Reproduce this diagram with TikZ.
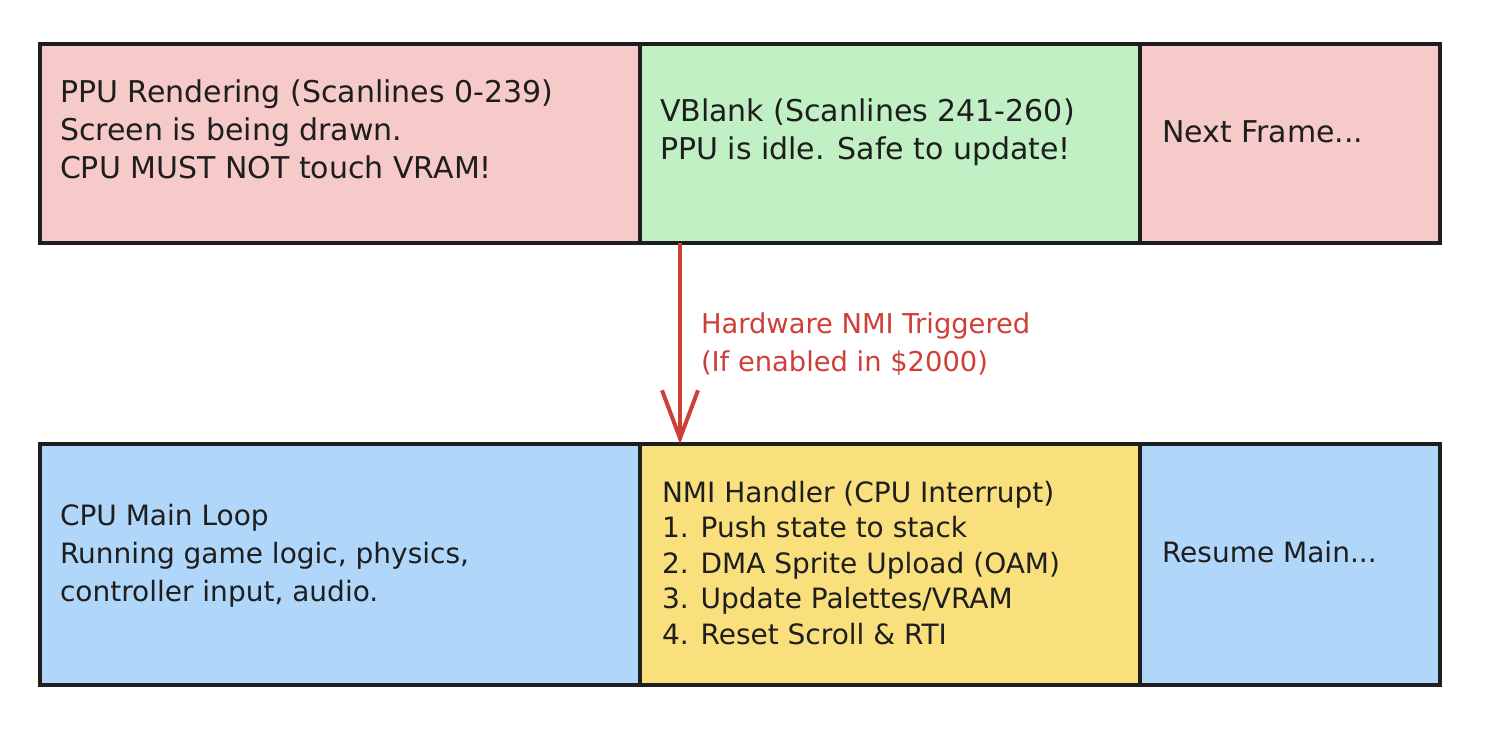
\documentclass[tikz,border=0pt]{standalone}
\usepackage{fontspec}
\setmainfont{DejaVu Sans}
\usetikzlibrary{arrows.meta,calc}
\definecolor{inkc}{RGB}{30,30,30}
\definecolor{pinkc}{RGB}{247,202,202}
\definecolor{greenc}{RGB}{192,240,195}
\definecolor{bluec}{RGB}{176,214,249}
\definecolor{yellowc}{RGB}{249,224,125}
\definecolor{redc}{RGB}{208,62,56}
\tikzset{
  box/.style={draw=inkc, line width=3pt, rectangle, inner sep=0pt, outer sep=0pt, anchor=north west},
  bigtxt/.style={inner sep=0pt, outer sep=0pt, anchor=base west, align=left, text=inkc, font=\fontsize{22.5pt}{28.5pt}\selectfont},
  midtxt/.style={inner sep=0pt, outer sep=0pt, anchor=base west, align=left, text=inkc, font=\fontsize{21pt}{28.5pt}\selectfont},
  listtxt/.style={inner sep=0pt, outer sep=0pt, anchor=base west, align=left, text=inkc, font=\fontsize{21pt}{26.6pt}\selectfont},
  redtxt/.style={inner sep=0pt, outer sep=0pt, anchor=base west, align=left, text=redc, font=\fontsize{20.5pt}{29pt}\selectfont},
  nmiarrow/.style={draw=redc, line width=3pt, -{Straight Barb[length=36pt,width=27pt]}}
}
\begin{document}
\begin{tikzpicture}[x=0.75pt,y=-0.75pt]
\useasboundingbox (0,0) rectangle (1494,730);
% top row
\node (top1) [box, fill=pinkc, minimum width=450pt, minimum height=149.25pt] at (40,44) {};
\node (top2) [box, fill=greenc, minimum width=375pt, minimum height=149.25pt] at (640,44) {};
\node (top3) [box, fill=pinkc, minimum width=225pt, minimum height=149.25pt] at (1140,44) {};
% bottom row
\node (bot1) [box, fill=bluec, minimum width=450pt, minimum height=180.75pt] at (40,444) {};
\node (bot2) [box, fill=yellowc, minimum width=375pt, minimum height=180.75pt] at (640,444) {};
\node (bot3) [box, fill=bluec, minimum width=225pt, minimum height=180.75pt] at (1140,444) {};
% texts (anchored at the baseline of the last line)
\node (t1) [bigtxt] at (60,179) {PPU Rendering (Scanlines 0-239)\\Screen is being drawn.\\CPU MUST NOT touch VRAM!};
\node (t2) [bigtxt] at (660,160) {VBlank (Scanlines 241-260)\\PPU is idle. Safe to update!};
\node (t3) [bigtxt] at (1162,143) {Next Frame...};
\node (b1) [midtxt] at (60,601) {CPU Main Loop\\Running game logic, physics,\\controller input, audio.};
\node (b2) [listtxt] at (662,644) {NMI Handler (CPU Interrupt)\\1. Push state to stack\\2. DMA Sprite Upload (OAM)\\3. Update Palettes/VRAM\\4. Reset Scroll \& RTI};
\node (b3) [midtxt] at (1162,562) {Resume Main...};
% arrow
\draw[nmiarrow] ($(top2.south west)+(40,0)$) -- ($(bot2.north west)+(40,0)$);
\node (lab) [redtxt] at (701,372) {Hardware NMI Triggered\\(If enabled in \$2000)};
\end{tikzpicture}
\end{document}
